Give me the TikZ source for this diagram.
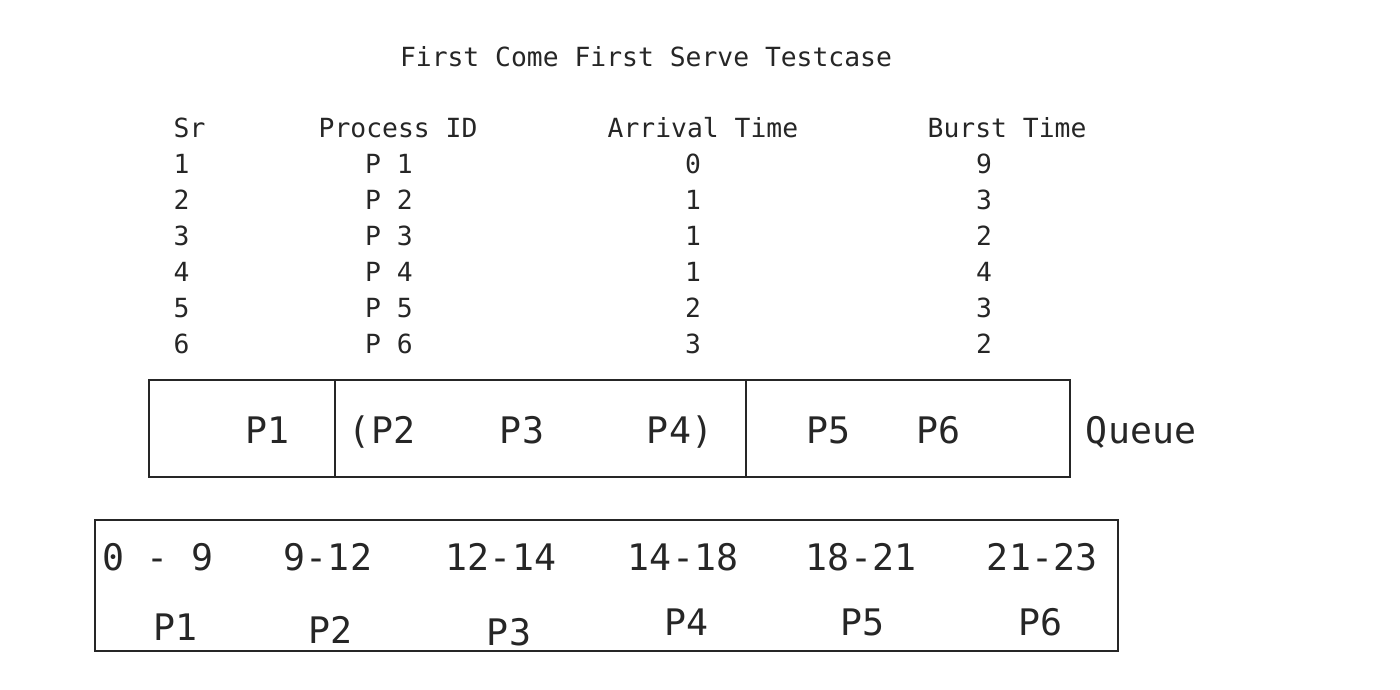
\documentclass[tikz,border=0pt]{standalone}
\usepackage{fontspec}
\setmonofont{DejaVu Sans Mono}
\usepackage{tikz}
\usetikzlibrary{positioning, calc}

\begin{document}
\begin{tikzpicture}[
    tabtext/.style={inner sep=0pt, font=\ttfamily\fontsize{7.5}{9}\selectfont, text=black!85},
    bigtext/.style={inner sep=0pt, text depth=0pt, font=\ttfamily\fontsize{10.4}{12}\selectfont, text=black!85},
    cell/.style={draw=black!85, line width=0.6pt, rectangle, minimum height=0.97cm, inner sep=0pt}
]
\useasboundingbox (0,0) rectangle (14,6.9);

% Title
\node[tabtext] (title) at (6.46,6.33) {First Come First Serve Testcase};

% Table header
\node[tabtext, anchor=west] (hsr) at (1.73,5.62) {Sr};
\node[tabtext, anchor=west] (hpid) at (3.18,5.62) {Process ID};
\node[tabtext, anchor=west] (harr) at (6.07,5.62) {Arrival Time};
\node[tabtext, anchor=west] (hbur) at (9.27,5.62) {Burst Time};

% Table rows
\foreach \i/\at/\bt [count=\r] in {1/0/9, 2/1/3, 3/1/2, 4/1/4, 5/2/3, 6/3/2} {
  \node[tabtext, anchor=west] (sr\i) at (1.73,5.62-0.36*\r) {\i};
  \node[tabtext] (pid\i) at (3.89,5.62-0.36*\r) {P \i};
  \node[tabtext] (arr\i) at (6.93,5.62-0.36*\r) {\at};
  \node[tabtext] (bur\i) at (9.84,5.62-0.36*\r) {\bt};
}

% Queue
\node[cell, minimum width=1.86cm] (q1) at (2.42,2.615) {};
\node[cell, minimum width=4.11cm] (q2) at (5.405,2.615) {};
\node[cell, minimum width=3.24cm] (q3) at (9.08,2.615) {};
\node[bigtext] (qp1) at (2.68,2.60) {P1};
\node[bigtext] (qp2) at (3.82,2.60) {(P2};
\node[bigtext] (qp3) at (5.22,2.60) {P3};
\node[bigtext] (qp4) at (6.80,2.60) {P4)};
\node[bigtext] (qp5) at (8.28,2.60) {P5};
\node[bigtext] (qp6) at (9.38,2.60) {P6};
\node[bigtext] (queue) at (11.41,2.60) {Queue};

% Gantt chart
\node[cell, minimum width=10.23cm, minimum height=1.31cm] (gantt) at (6.065,1.045) {};
\node[bigtext] (t1) at (1.58,1.33) {0 - 9};
\node[bigtext] (t2) at (3.28,1.33) {9-12};
\node[bigtext] (t3) at (5.01,1.33) {12-14};
\node[bigtext] (t4) at (6.83,1.33) {14-18};
\node[bigtext] (t5) at (8.61,1.33) {18-21};
\node[bigtext] (t6) at (10.42,1.33) {21-23};
\node[bigtext] (g1) at (1.76,0.63) {P1};
\node[bigtext] (g2) at (3.30,0.60) {P2};
\node[bigtext] (g3) at (5.09,0.58) {P3};
\node[bigtext] (g4) at (6.86,0.68) {P4};
\node[bigtext] (g5) at (8.62,0.68) {P5};
\node[bigtext] (g6) at (10.40,0.68) {P6};

\end{tikzpicture}
\end{document}
